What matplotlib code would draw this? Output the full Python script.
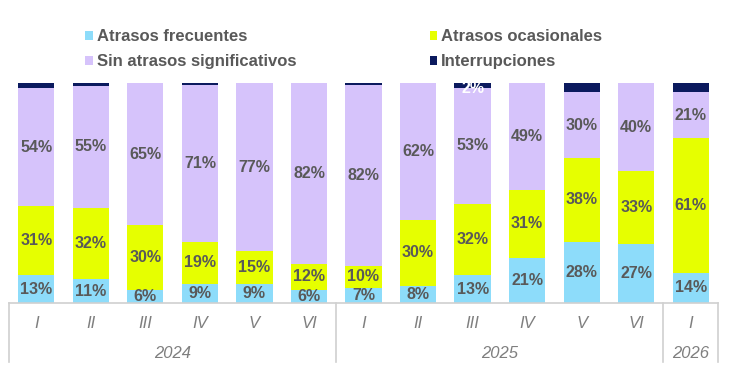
import matplotlib
matplotlib.use("Agg")
import matplotlib.pyplot as plt
import numpy as np
from matplotlib.patches import Patch
import matplotlib.transforms as mtransforms

plt.rcParams['font.family'] = ['Liberation Sans', 'DejaVu Sans']

periods = ["I", "II", "III", "IV", "V", "VI", "I", "II", "III", "IV", "V", "VI", "I"]
years = ["2024", "2025", "2026"]
year_counts = [6, 6, 1]

frecuentes = [13, 11, 6, 9, 9, 6, 7, 8, 13, 21, 28, 27, 14]
ocasionales = [31, 32, 30, 19, 15, 12, 10, 30, 32, 31, 38, 33, 61]
sin_atrasos = [54, 55, 65, 71, 77, 82, 82, 62, 53, 49, 30, 40, 21]
interrupciones = [2, 1, 0, 1, 0, 0, 1, 0, 2, 0, 4, 0, 4]

series = [
    ("Atrasos frecuentes", frecuentes, "#8ddcfa"),
    ("Atrasos ocasionales", ocasionales, "#e6ff00"),
    ("Sin atrasos significativos", sin_atrasos, "#d6c3fb"),
    ("Interrupciones", interrupciones, "#0b1a5e"),
]

label_color = "#595959"
axis_text_color = "#7f7f7f"
grid_color = "#d0d0d0"

fig = plt.figure(figsize=(7.3, 3.82), dpi=100)
ax = fig.add_axes([9 / 730, 1 - 303.3 / 382, 709 / 730, 220 / 382])

x = np.arange(len(periods))
totals = np.sum([s[1] for s in series], axis=0)
bottom = np.zeros(len(periods))
for name, vals, color in series:
    vals = np.array(vals, dtype=float)
    h = vals / totals * 100
    ax.bar(x, h, bottom=bottom, width=0.665, color=color, linewidth=0)
    for i in range(len(x)):
        if name == "Interrupciones":
            if i == 8:
                ax.text(x[i], bottom[i] + h[i] / 2 - 1.5, f"{vals[i]:.0f}%", ha="center", va="center",
                        color="white", fontsize=11.5, fontweight="bold")
            continue
        ax.text(x[i], bottom[i] + h[i] / 2, f"{vals[i]:.0f}%", ha="center", va="center",
                color=label_color, fontsize=11.5, fontweight="bold")
    bottom += h

ax.set_xlim(-0.5, len(periods) - 0.5)
ax.set_ylim(0, 100)
ax.axis("off")

# category axis box
trans = mtransforms.blended_transform_factory(ax.transData, ax.transAxes)
y_low = -(362 - 303.3) / 220
ax.plot([-0.5, len(periods) - 0.5], [0, 0], color=grid_color, lw=1.2, transform=trans, clip_on=False)
edges = [-0.5]
c = -0.5
for n in year_counts:
    c += n
    edges.append(c)
for e in edges:
    ax.plot([e, e], [0, y_low], color=grid_color, lw=1.2, transform=trans, clip_on=False)

for i, p in enumerate(periods):
    ax.text(x[i], -(323 - 303.3) / 220, p, ha="center", va="center", transform=trans,
            fontsize=12, fontstyle="italic", color=axis_text_color)
for j, yr in enumerate(years):
    center = (edges[j] + edges[j + 1]) / 2
    ax.text(center, -(353 - 303.3) / 220, yr, ha="center", va="center", transform=trans,
            fontsize=12, fontstyle="italic", color=axis_text_color)

order = ["Atrasos frecuentes", "Sin atrasos significativos", "Atrasos ocasionales", "Interrupciones"]
colors = {s[0]: s[2] for s in series}
leg_handles = [Patch(facecolor=colors[n], edgecolor="none") for n in order]
leg = fig.legend(leg_handles, order, ncol=2, loc="upper left", bbox_to_anchor=(85 / 730, 1 - 29 / 382),
                 frameon=False, handlelength=0.45, handleheight=0.45, handletextpad=0.25,
                 columnspacing=8.0, labelspacing=0.6, borderpad=0, borderaxespad=0,
                 prop={"size": 12, "weight": "bold"})
for t in leg.get_texts():
    t.set_color(label_color)

fig.savefig("out.png", dpi=100)
